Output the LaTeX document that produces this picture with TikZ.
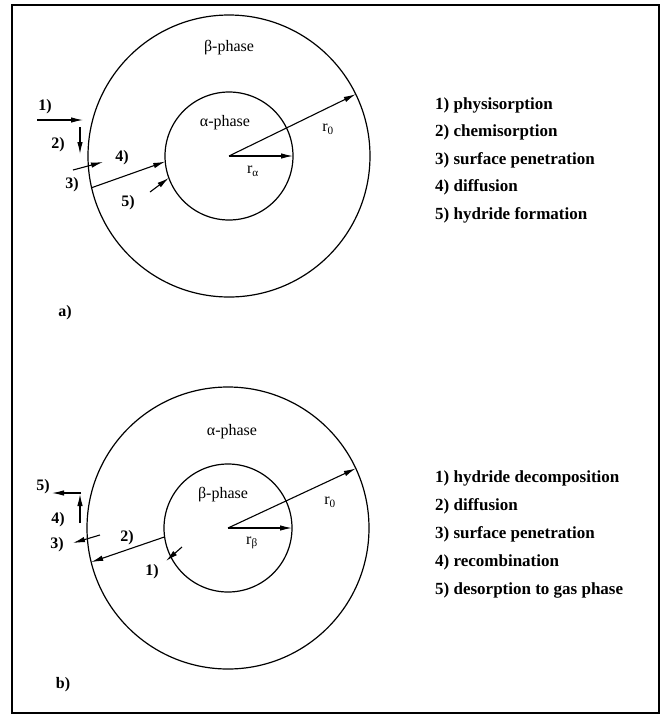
\documentclass[tikz,border=0pt]{standalone}
\usepackage{fontspec}
\setmainfont{Liberation Serif}
\usetikzlibrary{arrows.meta,positioning}

\begin{document}
\begin{tikzpicture}[
    x=1pt, y=-1pt,
    phase/.style={circle, draw, line width=1.2pt, inner sep=0pt, outer sep=0pt},
    txt/.style={font=\fontsize{16}{18}\selectfont, inner sep=0pt},
    num/.style={font=\fontsize{16}{18}\selectfont\bfseries, inner sep=0pt},
    item/.style={font=\fontsize{17}{19}\selectfont\bfseries, inner sep=0pt, anchor=west},
    arr/.style={-{Latex[length=12pt,width=5.5pt]}, line width=1.1pt}
]
\useasboundingbox (0,0) rectangle (662,716);
\draw[line width=1.6pt] (12,5) rectangle (659,713);

% a) absorption
\node[phase, minimum size=282pt] (outA) at (229,156) {};
\node[phase, minimum size=128pt] (inA) at (229,156) {};
\coordinate (cA) at (229,156);
\draw[arr] (cA) -- (outA.26);
\draw[arr] (cA) -- (inA.0);
\node[txt] (rzeroA) at (328,129) {r\textsubscript{0}};
\node[txt] (ralpha) at (253,171) {r\textsubscript{α}};
\node[txt] (alphaA) at (225,123) {α-phase};
\node[txt] (betaA) at (229,48) {β-phase};

\coordinate (p1a) at (37,120);
\coordinate (p1b) at (83,120);
\coordinate (p2a) at (80,127);
\coordinate (p2b) at (80,154);
\coordinate (p3a) at (73,170);
\coordinate (p3b) at (103,162);
\coordinate (p5a) at (150,192);
\draw[arr] (p1a) -- (p1b);
\draw[arr] (p2a) -- (p2b);
\draw[arr] (p3a) -- (p3b);
\draw[arr] (outA.193) -- (inA.185);
\draw[arr] (p5a) -- (inA.200);
\node[num] (n1A) at (45,107) {1)};
\node[num] (n2A) at (58,145) {2)};
\node[num] (n3A) at (72,185) {3)};
\node[num] (n4A) at (122,158) {4)};
\node[num] (n5A) at (128,203) {5)};

\node[item] (l1A) at (435,105) {1) physisorption};
\node[item, below=27.5pt of l1A.west, anchor=west] (l2A) {2) chemisorption};
\node[item, below=27.5pt of l2A.west, anchor=west] (l3A) {3) surface penetration};
\node[item, below=27.5pt of l3A.west, anchor=west] (l4A) {4) diffusion};
\node[item, below=27.5pt of l4A.west, anchor=west] (l5A) {5) hydride formation};

\node[num] (capA) at (65,313) {a)};

% b) desorption
\node[phase, minimum size=282pt] (outB) at (228,528) {};
\node[phase, minimum size=128pt] (inB) at (228,528) {};
\coordinate (cB) at (228,528);
\draw[arr] (cB) -- (outB.25);
\draw[arr] (cB) -- (inB.0);
\node[txt] (rzeroB) at (330,502) {r\textsubscript{0}};
\node[txt] (rbeta) at (252,543) {r\textsubscript{β}};
\node[txt] (betaB) at (223,495) {β-phase};
\node[txt] (alphaB) at (232,432) {α-phase};

\coordinate (q4a) at (80,523);
\coordinate (q4b) at (80,494);
\coordinate (q5a) at (81,493);
\coordinate (q5b) at (52,493);
\coordinate (q3a) at (100,535);
\coordinate (q3b) at (73,543);
\coordinate (q1a) at (182,547);
\coordinate (q1b) at (166,561);
\draw[arr] (inB.188) -- (outB.194);
\draw[arr] (q1a) -- (q1b);
\draw[arr] (q3a) -- (q3b);
\draw[arr] (q4a) -- (q4b);
\draw[arr] (q5a) -- (q5b);
\node[num] (n1B) at (152,572) {1)};
\node[num] (n2B) at (127,538) {2)};
\node[num] (n3B) at (57,545) {3)};
\node[num] (n4B) at (58,520) {4)};
\node[num] (n5B) at (43,487) {5)};

\node[item] (l1B) at (435,478) {1) hydride decomposition};
\node[item, below=28pt of l1B.west, anchor=west] (l2B) {2) diffusion};
\node[item, below=28pt of l2B.west, anchor=west] (l3B) {3) surface penetration};
\node[item, below=28pt of l3B.west, anchor=west] (l4B) {4) recombination};
\node[item, below=28pt of l4B.west, anchor=west] (l5B) {5) desorption to gas phase};

\node[num] (capB) at (63,685) {b)};
\end{tikzpicture}
\end{document}
